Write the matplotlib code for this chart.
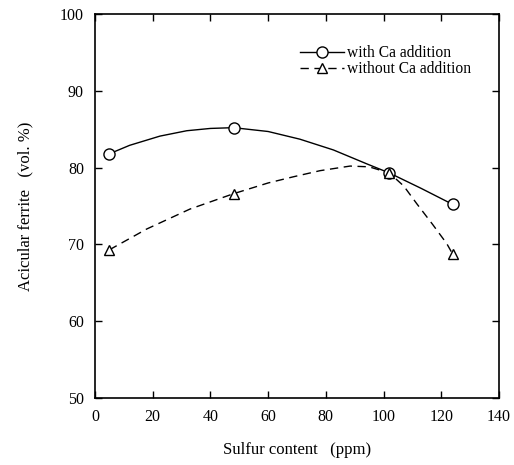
import matplotlib
matplotlib.use("Agg")
import matplotlib.pyplot as plt
from matplotlib.lines import Line2D

plt.rcParams['font.family'] = ['Liberation Serif', 'DejaVu Serif']
plt.rcParams['mathtext.fontset'] = 'stix'

# measured points
sulfur = [5, 48, 102, 124]
with_ca = [81.8, 85.1, 79.3, 75.2]
without_ca = [69.3, 76.6, 79.3, 68.7]

# smooth fitted curves
curve_with_x = [5, 12, 22.5, 31.8, 40, 48, 60, 71, 82.6, 94.1, 102, 113, 124]
curve_with_y = [81.8, 82.9, 84.1, 84.8, 85.1, 85.2, 84.7, 83.7, 82.3, 80.5, 79.3, 77.3, 75.2]
curve_without_x = [5, 17.9, 32.9, 48, 60, 68.7, 78, 88.4, 95, 102, 107, 111.5, 117, 121.9, 124]
curve_without_y = [69.3, 72.0, 74.6, 76.6, 78.0, 78.8, 79.6, 80.2, 80.1, 79.3, 77.6, 75.3, 72.6, 70.1, 68.7]

xticks = [0, 20, 40, 60, 80, 100, 120, 140]
yticks = [50, 60, 70, 80, 90, 100]

fig = plt.figure(figsize=(5.14, 4.65), dpi=100)
ax = fig.add_axes([95/514, 1-398/465, 404/514, 384/465])

ax.plot(curve_with_x, curve_with_y, color='black', lw=1.0)
ax.plot(curve_without_x, curve_without_y, color='black', lw=1.0, dashes=(6, 4))
ax.plot(sulfur, with_ca, linestyle='none', marker='o', ms=8, mfc='white', mec='black', mew=1.0)
ax.plot(sulfur, without_ca, linestyle='none', marker='^', ms=7, mfc='white', mec='black', mew=1.0)

ax.set_xlim(0, 140)
ax.set_ylim(50, 100)
ax.set_xticks(xticks)
ax.set_yticks(yticks)
ax.tick_params(direction='in', length=5, width=1, top=True, right=True,
               labeltop=False, labelright=False, labelsize=11.5, pad=8)
for s in ax.spines.values():
    s.set_linewidth(1.2)

ax.set_xlabel('Sulfur content   (ppm)', fontsize=12, labelpad=12)
ax.set_ylabel('Acicular ferrite   (vol. %)', fontsize=12, labelpad=19)

h1 = Line2D([], [], color='black', lw=1.0, marker='o', ms=8, mfc='white', mec='black')
h2 = Line2D([], [], color='black', lw=1.0, dashes=(6, 4), marker='^', ms=7, mfc='white', mec='black')
ax.legend([h1, h2], ['with Ca addition', 'without Ca addition'],
          loc='upper right', bbox_to_anchor=(0.965, 0.955), frameon=False,
          fontsize=11.2, handlelength=2.8, handletextpad=0.2, labelspacing=0.0)

fig.savefig('out.png', dpi=100)
